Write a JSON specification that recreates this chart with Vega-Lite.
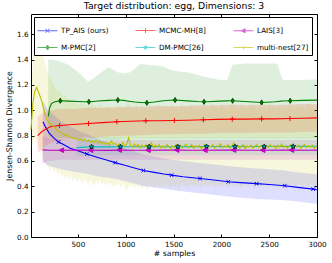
{
"$schema": "https://vega.github.io/schema/vega-lite/v6.json",
"width": 286, "height": 223,
"autosize": {"type": "none"},
"padding": {"left": 31, "top": 14, "right": 15, "bottom": 26},
"background": "white",
"title": {"text": "Target distribution: egg, Dimensions: 3", "font": "DejaVu Sans", "fontSize": 9.3, "fontWeight": 400, "color": "black", "offset": 2},
"config": {
  "title": {"fontWeight": 400},
  "view": {"stroke": "black", "strokeWidth": 1},
  "axis": {"labelFont": "DejaVu Sans", "labelFontSize": 7.2, "labelColor": "black", "titleFont": "DejaVu Sans", "titleFontSize": 7.8, "titleFontWeight": 400, "titleColor": "black", "tickColor": "black", "domain": false, "grid": false}
},
"datasets": {
"lines": [
{"m":"TP_AIS (ours)","x":135,"y":0.91,"lo":0.6,"hi":1.08},
{"m":"TP_AIS (ours)","x":160,"y":0.87,"lo":0.58,"hi":1.04},
{"m":"TP_AIS (ours)","x":200,"y":0.82,"lo":0.56,"hi":0.99},
{"m":"TP_AIS (ours)","x":250,"y":0.78,"lo":0.55,"hi":0.96},
{"m":"TP_AIS (ours)","x":298,"y":0.75,"lo":0.54,"hi":0.93},
{"m":"TP_AIS (ours)","x":350,"y":0.73,"lo":0.53,"hi":0.9},
{"m":"TP_AIS (ours)","x":420,"y":0.7,"lo":0.52,"hi":0.87},
{"m":"TP_AIS (ours)","x":500,"y":0.68,"lo":0.51,"hi":0.84},
{"m":"TP_AIS (ours)","x":594,"y":0.655,"lo":0.5,"hi":0.81},
{"m":"TP_AIS (ours)","x":700,"y":0.63,"lo":0.48,"hi":0.78},
{"m":"TP_AIS (ours)","x":800,"y":0.607,"lo":0.47,"hi":0.75},
{"m":"TP_AIS (ours)","x":890,"y":0.587,"lo":0.46,"hi":0.72},
{"m":"TP_AIS (ours)","x":1000,"y":0.565,"lo":0.44,"hi":0.7},
{"m":"TP_AIS (ours)","x":1100,"y":0.543,"lo":0.42,"hi":0.67},
{"m":"TP_AIS (ours)","x":1185,"y":0.525,"lo":0.4,"hi":0.65},
{"m":"TP_AIS (ours)","x":1300,"y":0.51,"lo":0.39,"hi":0.635},
{"m":"TP_AIS (ours)","x":1400,"y":0.497,"lo":0.38,"hi":0.62},
{"m":"TP_AIS (ours)","x":1480,"y":0.488,"lo":0.37,"hi":0.61},
{"m":"TP_AIS (ours)","x":1600,"y":0.476,"lo":0.36,"hi":0.6},
{"m":"TP_AIS (ours)","x":1777,"y":0.462,"lo":0.345,"hi":0.585},
{"m":"TP_AIS (ours)","x":1900,"y":0.452,"lo":0.335,"hi":0.575},
{"m":"TP_AIS (ours)","x":2073,"y":0.436,"lo":0.32,"hi":0.56},
{"m":"TP_AIS (ours)","x":2200,"y":0.429,"lo":0.31,"hi":0.55},
{"m":"TP_AIS (ours)","x":2369,"y":0.421,"lo":0.3,"hi":0.54},
{"m":"TP_AIS (ours)","x":2500,"y":0.414,"lo":0.295,"hi":0.535},
{"m":"TP_AIS (ours)","x":2664,"y":0.405,"lo":0.29,"hi":0.525},
{"m":"TP_AIS (ours)","x":2800,"y":0.392,"lo":0.28,"hi":0.51},
{"m":"TP_AIS (ours)","x":2960,"y":0.378,"lo":0.265,"hi":0.5},
{"m":"TP_AIS (ours)","x":3000,"y":0.375,"lo":0.26,"hi":0.495},
{"m":"M-PMC[2]","x":190,"y":0.95,"lo":0.8,"hi":1.4},
{"m":"M-PMC[2]","x":205,"y":1.02,"lo":0.79,"hi":1.4},
{"m":"M-PMC[2]","x":225,"y":1.055,"lo":0.78,"hi":1.4},
{"m":"M-PMC[2]","x":260,"y":1.068,"lo":0.78,"hi":1.395},
{"m":"M-PMC[2]","x":316,"y":1.075,"lo":0.78,"hi":1.385},
{"m":"M-PMC[2]","x":400,"y":1.072,"lo":0.78,"hi":1.36},
{"m":"M-PMC[2]","x":504,"y":1.07,"lo":0.78,"hi":1.3},
{"m":"M-PMC[2]","x":560,"y":1.068,"lo":0.79,"hi":1.26},
{"m":"M-PMC[2]","x":608,"y":1.067,"lo":0.79,"hi":1.225},
{"m":"M-PMC[2]","x":660,"y":1.07,"lo":0.78,"hi":1.25},
{"m":"M-PMC[2]","x":712,"y":1.073,"lo":0.78,"hi":1.28},
{"m":"M-PMC[2]","x":817,"y":1.078,"lo":0.77,"hi":1.34},
{"m":"M-PMC[2]","x":918,"y":1.081,"lo":0.77,"hi":1.3},
{"m":"M-PMC[2]","x":980,"y":1.078,"lo":0.78,"hi":1.29},
{"m":"M-PMC[2]","x":1050,"y":1.07,"lo":0.78,"hi":1.3},
{"m":"M-PMC[2]","x":1100,"y":1.065,"lo":0.78,"hi":1.33},
{"m":"M-PMC[2]","x":1151,"y":1.062,"lo":0.78,"hi":1.365},
{"m":"M-PMC[2]","x":1221,"y":1.059,"lo":0.78,"hi":1.36},
{"m":"M-PMC[2]","x":1300,"y":1.065,"lo":0.78,"hi":1.355},
{"m":"M-PMC[2]","x":1391,"y":1.075,"lo":0.78,"hi":1.345},
{"m":"M-PMC[2]","x":1464,"y":1.079,"lo":0.78,"hi":1.32},
{"m":"M-PMC[2]","x":1516,"y":1.081,"lo":0.78,"hi":1.31},
{"m":"M-PMC[2]","x":1642,"y":1.074,"lo":0.78,"hi":1.3},
{"m":"M-PMC[2]","x":1750,"y":1.069,"lo":0.78,"hi":1.28},
{"m":"M-PMC[2]","x":1819,"y":1.067,"lo":0.78,"hi":1.265},
{"m":"M-PMC[2]","x":1851,"y":1.068,"lo":0.78,"hi":1.26},
{"m":"M-PMC[2]","x":1986,"y":1.072,"lo":0.78,"hi":1.24},
{"m":"M-PMC[2]","x":2059,"y":1.074,"lo":0.78,"hi":1.24},
{"m":"M-PMC[2]","x":2090,"y":1.075,"lo":0.78,"hi":1.3},
{"m":"M-PMC[2]","x":2118,"y":1.075,"lo":0.78,"hi":1.36},
{"m":"M-PMC[2]","x":2250,"y":1.069,"lo":0.78,"hi":1.37},
{"m":"M-PMC[2]","x":2421,"y":1.062,"lo":0.78,"hi":1.37},
{"m":"M-PMC[2]","x":2560,"y":1.068,"lo":0.78,"hi":1.37},
{"m":"M-PMC[2]","x":2592,"y":1.07,"lo":0.78,"hi":1.36},
{"m":"M-PMC[2]","x":2620,"y":1.072,"lo":0.78,"hi":1.28},
{"m":"M-PMC[2]","x":2644,"y":1.073,"lo":0.78,"hi":1.24},
{"m":"M-PMC[2]","x":2720,"y":1.075,"lo":0.78,"hi":1.24},
{"m":"M-PMC[2]","x":2850,"y":1.078,"lo":0.78,"hi":1.24},
{"m":"M-PMC[2]","x":3000,"y":1.08,"lo":0.78,"hi":1.245},
{"m":"MCMC-MH[8]","x":80,"y":0.8,"lo":0.66,"hi":0.95},
{"m":"MCMC-MH[8]","x":120,"y":0.83,"lo":0.69,"hi":0.97},
{"m":"MCMC-MH[8]","x":160,"y":0.85,"lo":0.72,"hi":0.99},
{"m":"MCMC-MH[8]","x":211,"y":0.87,"lo":0.74,"hi":1.0},
{"m":"MCMC-MH[8]","x":309,"y":0.88,"lo":0.76,"hi":1.01},
{"m":"MCMC-MH[8]","x":450,"y":0.888,"lo":0.77,"hi":1.01},
{"m":"MCMC-MH[8]","x":611,"y":0.896,"lo":0.78,"hi":1.02},
{"m":"MCMC-MH[8]","x":750,"y":0.903,"lo":0.79,"hi":1.02},
{"m":"MCMC-MH[8]","x":907,"y":0.91,"lo":0.8,"hi":1.025},
{"m":"MCMC-MH[8]","x":1050,"y":0.913,"lo":0.8,"hi":1.03},
{"m":"MCMC-MH[8]","x":1210,"y":0.917,"lo":0.805,"hi":1.03},
{"m":"MCMC-MH[8]","x":1350,"y":0.918,"lo":0.81,"hi":1.035},
{"m":"MCMC-MH[8]","x":1509,"y":0.92,"lo":0.81,"hi":1.03},
{"m":"MCMC-MH[8]","x":1650,"y":0.922,"lo":0.815,"hi":1.035},
{"m":"MCMC-MH[8]","x":1812,"y":0.925,"lo":0.815,"hi":1.04},
{"m":"MCMC-MH[8]","x":1950,"y":0.928,"lo":0.82,"hi":1.04},
{"m":"MCMC-MH[8]","x":2114,"y":0.93,"lo":0.82,"hi":1.045},
{"m":"MCMC-MH[8]","x":2250,"y":0.93,"lo":0.82,"hi":1.04},
{"m":"MCMC-MH[8]","x":2421,"y":0.932,"lo":0.825,"hi":1.045},
{"m":"MCMC-MH[8]","x":2550,"y":0.932,"lo":0.825,"hi":1.04},
{"m":"MCMC-MH[8]","x":2717,"y":0.935,"lo":0.825,"hi":1.045},
{"m":"MCMC-MH[8]","x":2850,"y":0.937,"lo":0.83,"hi":1.05},
{"m":"MCMC-MH[8]","x":3000,"y":0.94,"lo":0.83,"hi":1.05},
{"m":"DM-PMC[26]","x":486,"y":0.705,"lo":0.64,"hi":0.78},
{"m":"DM-PMC[26]","x":643,"y":0.712,"lo":0.645,"hi":0.785},
{"m":"DM-PMC[26]","x":800,"y":0.711,"lo":0.645,"hi":0.785},
{"m":"DM-PMC[26]","x":945,"y":0.712,"lo":0.645,"hi":0.785},
{"m":"DM-PMC[26]","x":1100,"y":0.712,"lo":0.645,"hi":0.785},
{"m":"DM-PMC[26]","x":1245,"y":0.713,"lo":0.645,"hi":0.785},
{"m":"DM-PMC[26]","x":1400,"y":0.712,"lo":0.645,"hi":0.785},
{"m":"DM-PMC[26]","x":1545,"y":0.713,"lo":0.645,"hi":0.785},
{"m":"DM-PMC[26]","x":1700,"y":0.713,"lo":0.645,"hi":0.785},
{"m":"DM-PMC[26]","x":1845,"y":0.714,"lo":0.645,"hi":0.785},
{"m":"DM-PMC[26]","x":2000,"y":0.713,"lo":0.645,"hi":0.785},
{"m":"DM-PMC[26]","x":2143,"y":0.714,"lo":0.645,"hi":0.785},
{"m":"DM-PMC[26]","x":2300,"y":0.714,"lo":0.645,"hi":0.785},
{"m":"DM-PMC[26]","x":2448,"y":0.714,"lo":0.645,"hi":0.785},
{"m":"DM-PMC[26]","x":2600,"y":0.715,"lo":0.645,"hi":0.785},
{"m":"DM-PMC[26]","x":2751,"y":0.715,"lo":0.645,"hi":0.785},
{"m":"DM-PMC[26]","x":2900,"y":0.715,"lo":0.645,"hi":0.785},
{"m":"DM-PMC[26]","x":3000,"y":0.716,"lo":0.645,"hi":0.785},
{"m":"LAIS[3]","x":130,"y":0.688,"lo":0.58,"hi":0.8},
{"m":"LAIS[3]","x":200,"y":0.685,"lo":0.6,"hi":0.78},
{"m":"LAIS[3]","x":330,"y":0.685,"lo":0.61,"hi":0.77},
{"m":"LAIS[3]","x":500,"y":0.686,"lo":0.61,"hi":0.765},
{"m":"LAIS[3]","x":635,"y":0.685,"lo":0.61,"hi":0.765},
{"m":"LAIS[3]","x":800,"y":0.684,"lo":0.61,"hi":0.765},
{"m":"LAIS[3]","x":935,"y":0.686,"lo":0.61,"hi":0.765},
{"m":"LAIS[3]","x":1100,"y":0.685,"lo":0.61,"hi":0.765},
{"m":"LAIS[3]","x":1235,"y":0.685,"lo":0.61,"hi":0.765},
{"m":"LAIS[3]","x":1400,"y":0.686,"lo":0.61,"hi":0.765},
{"m":"LAIS[3]","x":1535,"y":0.686,"lo":0.61,"hi":0.765},
{"m":"LAIS[3]","x":1700,"y":0.685,"lo":0.61,"hi":0.765},
{"m":"LAIS[3]","x":1830,"y":0.685,"lo":0.61,"hi":0.765},
{"m":"LAIS[3]","x":2000,"y":0.686,"lo":0.61,"hi":0.765},
{"m":"LAIS[3]","x":2130,"y":0.686,"lo":0.61,"hi":0.765},
{"m":"LAIS[3]","x":2300,"y":0.685,"lo":0.61,"hi":0.765},
{"m":"LAIS[3]","x":2435,"y":0.685,"lo":0.61,"hi":0.765},
{"m":"LAIS[3]","x":2600,"y":0.686,"lo":0.61,"hi":0.765},
{"m":"LAIS[3]","x":2735,"y":0.686,"lo":0.61,"hi":0.765},
{"m":"LAIS[3]","x":2900,"y":0.685,"lo":0.61,"hi":0.765},
{"m":"LAIS[3]","x":3000,"y":0.686,"lo":0.61,"hi":0.765},
{"m":"multi-nest[27]","x":10,"y":0.85,"lo":0.68,"hi":1.02},
{"m":"multi-nest[27]","x":30,"y":1.06,"lo":0.74,"hi":1.42},
{"m":"multi-nest[27]","x":50,"y":1.15,"lo":0.78,"hi":1.6},
{"m":"multi-nest[27]","x":70,"y":1.18,"lo":0.76,"hi":1.66},
{"m":"multi-nest[27]","x":90,"y":1.14,"lo":0.72,"hi":1.63},
{"m":"multi-nest[27]","x":110,"y":1.1,"lo":0.68,"hi":1.56},
{"m":"multi-nest[27]","x":130,"y":1.05,"lo":0.64,"hi":1.47},
{"m":"multi-nest[27]","x":150,"y":0.99,"lo":0.6,"hi":1.39},
{"m":"multi-nest[27]","x":170,"y":0.94,"lo":0.57,"hi":1.33},
{"m":"multi-nest[27]","x":190,"y":0.91,"lo":0.55,"hi":1.29},
{"m":"multi-nest[27]","x":210,"y":0.895,"lo":0.52,"hi":1.26},
{"m":"multi-nest[27]","x":230,"y":0.88,"lo":0.56,"hi":1.22},
{"m":"multi-nest[27]","x":250,"y":0.875,"lo":0.5,"hi":1.2},
{"m":"multi-nest[27]","x":270,"y":0.85,"lo":0.53,"hi":1.17},
{"m":"multi-nest[27]","x":290,"y":0.845,"lo":0.49,"hi":1.15},
{"m":"multi-nest[27]","x":310,"y":0.83,"lo":0.51,"hi":1.16},
{"m":"multi-nest[27]","x":330,"y":0.82,"lo":0.47,"hi":1.12},
{"m":"multi-nest[27]","x":350,"y":0.815,"lo":0.5,"hi":1.1},
{"m":"multi-nest[27]","x":370,"y":0.8,"lo":0.46,"hi":1.13},
{"m":"multi-nest[27]","x":390,"y":0.805,"lo":0.49,"hi":1.08},
{"m":"multi-nest[27]","x":410,"y":0.79,"lo":0.45,"hi":1.1},
{"m":"multi-nest[27]","x":430,"y":0.785,"lo":0.48,"hi":1.06},
{"m":"multi-nest[27]","x":450,"y":0.78,"lo":0.44,"hi":1.09},
{"m":"multi-nest[27]","x":470,"y":0.775,"lo":0.47,"hi":1.05},
{"m":"multi-nest[27]","x":490,"y":0.78,"lo":0.43,"hi":1.07},
{"m":"multi-nest[27]","x":510,"y":0.765,"lo":0.46,"hi":1.04},
{"m":"multi-nest[27]","x":530,"y":0.775,"lo":0.45,"hi":1.08},
{"m":"multi-nest[27]","x":550,"y":0.76,"lo":0.42,"hi":1.03},
{"m":"multi-nest[27]","x":570,"y":0.77,"lo":0.46,"hi":1.06},
{"m":"multi-nest[27]","x":590,"y":0.755,"lo":0.44,"hi":1.02},
{"m":"multi-nest[27]","x":610,"y":0.765,"lo":0.41,"hi":1.05},
{"m":"multi-nest[27]","x":630,"y":0.75,"lo":0.45,"hi":1.03},
{"m":"multi-nest[27]","x":650,"y":0.76,"lo":0.43,"hi":1.07},
{"m":"multi-nest[27]","x":670,"y":0.745,"lo":0.4,"hi":1.02},
{"m":"multi-nest[27]","x":690,"y":0.765,"lo":0.44,"hi":1.04},
{"m":"multi-nest[27]","x":710,"y":0.74,"lo":0.42,"hi":1.01},
{"m":"multi-nest[27]","x":730,"y":0.755,"lo":0.45,"hi":1.06},
{"m":"multi-nest[27]","x":750,"y":0.735,"lo":0.41,"hi":1.02},
{"m":"multi-nest[27]","x":770,"y":0.75,"lo":0.43,"hi":1.04},
{"m":"multi-nest[27]","x":790,"y":0.73,"lo":0.4,"hi":1.0},
{"m":"multi-nest[27]","x":810,"y":0.745,"lo":0.44,"hi":1.05},
{"m":"multi-nest[27]","x":830,"y":0.725,"lo":0.41,"hi":1.01},
{"m":"multi-nest[27]","x":850,"y":0.76,"lo":0.43,"hi":1.03},
{"m":"multi-nest[27]","x":870,"y":0.73,"lo":0.39,"hi":1.0},
{"m":"multi-nest[27]","x":890,"y":0.74,"lo":0.42,"hi":1.04},
{"m":"multi-nest[27]","x":910,"y":0.72,"lo":0.4,"hi":1.02},
{"m":"multi-nest[27]","x":930,"y":0.735,"lo":0.44,"hi":1.05},
{"m":"multi-nest[27]","x":950,"y":0.715,"lo":0.38,"hi":1.0},
{"m":"multi-nest[27]","x":970,"y":0.745,"lo":0.42,"hi":1.03},
{"m":"multi-nest[27]","x":990,"y":0.72,"lo":0.4,"hi":1.01},
{"m":"multi-nest[27]","x":1010,"y":0.73,"lo":0.36,"hi":1.04},
{"m":"multi-nest[27]","x":1030,"y":0.785,"lo":0.41,"hi":1.08},
{"m":"multi-nest[27]","x":1050,"y":0.725,"lo":0.39,"hi":1.01},
{"m":"multi-nest[27]","x":1070,"y":0.71,"lo":0.42,"hi":1.03},
{"m":"multi-nest[27]","x":1090,"y":0.735,"lo":0.38,"hi":1.0},
{"m":"multi-nest[27]","x":1110,"y":0.715,"lo":0.41,"hi":1.05},
{"m":"multi-nest[27]","x":1130,"y":0.73,"lo":0.39,"hi":1.02},
{"m":"multi-nest[27]","x":1150,"y":0.705,"lo":0.42,"hi":1.0},
{"m":"multi-nest[27]","x":1170,"y":0.725,"lo":0.38,"hi":1.04},
{"m":"multi-nest[27]","x":1190,"y":0.71,"lo":0.41,"hi":1.01},
{"m":"multi-nest[27]","x":1210,"y":0.73,"lo":0.4,"hi":1.03},
{"m":"multi-nest[27]","x":1230,"y":0.7,"lo":0.37,"hi":0.99},
{"m":"multi-nest[27]","x":1250,"y":0.72,"lo":0.42,"hi":1.05},
{"m":"multi-nest[27]","x":1270,"y":0.745,"lo":0.39,"hi":1.02},
{"m":"multi-nest[27]","x":1290,"y":0.705,"lo":0.41,"hi":1.0},
{"m":"multi-nest[27]","x":1310,"y":0.725,"lo":0.38,"hi":1.04},
{"m":"multi-nest[27]","x":1330,"y":0.71,"lo":0.42,"hi":1.01},
{"m":"multi-nest[27]","x":1350,"y":0.73,"lo":0.4,"hi":1.06},
{"m":"multi-nest[27]","x":1370,"y":0.7,"lo":0.39,"hi":1.0},
{"m":"multi-nest[27]","x":1390,"y":0.72,"lo":0.41,"hi":1.03},
{"m":"multi-nest[27]","x":1410,"y":0.705,"lo":0.38,"hi":1.01},
{"m":"multi-nest[27]","x":1430,"y":0.73,"lo":0.42,"hi":1.04},
{"m":"multi-nest[27]","x":1450,"y":0.715,"lo":0.4,"hi":1.0},
{"m":"multi-nest[27]","x":1470,"y":0.695,"lo":0.37,"hi":1.03},
{"m":"multi-nest[27]","x":1490,"y":0.72,"lo":0.41,"hi":1.05},
{"m":"multi-nest[27]","x":1510,"y":0.705,"lo":0.39,"hi":1.01},
{"m":"multi-nest[27]","x":1530,"y":0.73,"lo":0.42,"hi":1.04},
{"m":"multi-nest[27]","x":1550,"y":0.71,"lo":0.36,"hi":1.0},
{"m":"multi-nest[27]","x":1570,"y":0.725,"lo":0.4,"hi":1.03},
{"m":"multi-nest[27]","x":1590,"y":0.7,"lo":0.42,"hi":1.06},
{"m":"multi-nest[27]","x":1610,"y":0.72,"lo":0.39,"hi":1.01},
{"m":"multi-nest[27]","x":1630,"y":0.735,"lo":0.41,"hi":1.04},
{"m":"multi-nest[27]","x":1650,"y":0.705,"lo":0.38,"hi":1.0},
{"m":"multi-nest[27]","x":1670,"y":0.715,"lo":0.42,"hi":1.03},
{"m":"multi-nest[27]","x":1690,"y":0.73,"lo":0.4,"hi":1.05},
{"m":"multi-nest[27]","x":1710,"y":0.7,"lo":0.41,"hi":1.01},
{"m":"multi-nest[27]","x":1730,"y":0.72,"lo":0.39,"hi":1.04},
{"m":"multi-nest[27]","x":1750,"y":0.71,"lo":0.42,"hi":1.0},
{"m":"multi-nest[27]","x":1770,"y":0.725,"lo":0.4,"hi":1.03},
{"m":"multi-nest[27]","x":1790,"y":0.695,"lo":0.38,"hi":1.02},
{"m":"multi-nest[27]","x":1810,"y":0.715,"lo":0.42,"hi":1.05},
{"m":"multi-nest[27]","x":1830,"y":0.73,"lo":0.4,"hi":1.01},
{"m":"multi-nest[27]","x":1850,"y":0.705,"lo":0.41,"hi":1.04},
{"m":"multi-nest[27]","x":1870,"y":0.72,"lo":0.39,"hi":1.0},
{"m":"multi-nest[27]","x":1890,"y":0.71,"lo":0.42,"hi":1.03},
{"m":"multi-nest[27]","x":1910,"y":0.73,"lo":0.4,"hi":1.06},
{"m":"multi-nest[27]","x":1930,"y":0.7,"lo":0.38,"hi":1.01},
{"m":"multi-nest[27]","x":1950,"y":0.72,"lo":0.42,"hi":1.04},
{"m":"multi-nest[27]","x":1970,"y":0.715,"lo":0.4,"hi":1.0},
{"m":"multi-nest[27]","x":1990,"y":0.735,"lo":0.41,"hi":1.03},
{"m":"multi-nest[27]","x":2010,"y":0.705,"lo":0.39,"hi":1.05},
{"m":"multi-nest[27]","x":2030,"y":0.72,"lo":0.42,"hi":1.01},
{"m":"multi-nest[27]","x":2050,"y":0.71,"lo":0.4,"hi":1.04},
{"m":"multi-nest[27]","x":2070,"y":0.73,"lo":0.38,"hi":1.0},
{"m":"multi-nest[27]","x":2090,"y":0.7,"lo":0.42,"hi":1.03},
{"m":"multi-nest[27]","x":2110,"y":0.72,"lo":0.4,"hi":1.06},
{"m":"multi-nest[27]","x":2130,"y":0.745,"lo":0.41,"hi":1.02},
{"m":"multi-nest[27]","x":2150,"y":0.71,"lo":0.39,"hi":1.04},
{"m":"multi-nest[27]","x":2170,"y":0.725,"lo":0.42,"hi":1.0},
{"m":"multi-nest[27]","x":2190,"y":0.7,"lo":0.4,"hi":1.03},
{"m":"multi-nest[27]","x":2210,"y":0.715,"lo":0.38,"hi":1.05},
{"m":"multi-nest[27]","x":2230,"y":0.73,"lo":0.41,"hi":1.01},
{"m":"multi-nest[27]","x":2250,"y":0.695,"lo":0.42,"hi":1.04},
{"m":"multi-nest[27]","x":2270,"y":0.72,"lo":0.4,"hi":1.0},
{"m":"multi-nest[27]","x":2290,"y":0.71,"lo":0.39,"hi":1.03},
{"m":"multi-nest[27]","x":2310,"y":0.725,"lo":0.42,"hi":1.06},
{"m":"multi-nest[27]","x":2330,"y":0.7,"lo":0.4,"hi":1.02},
{"m":"multi-nest[27]","x":2350,"y":0.715,"lo":0.38,"hi":1.04},
{"m":"multi-nest[27]","x":2370,"y":0.73,"lo":0.41,"hi":1.0},
{"m":"multi-nest[27]","x":2390,"y":0.705,"lo":0.42,"hi":1.03},
{"m":"multi-nest[27]","x":2410,"y":0.72,"lo":0.4,"hi":1.05},
{"m":"multi-nest[27]","x":2430,"y":0.71,"lo":0.39,"hi":1.01},
{"m":"multi-nest[27]","x":2450,"y":0.685,"lo":0.42,"hi":1.04},
{"m":"multi-nest[27]","x":2470,"y":0.72,"lo":0.4,"hi":1.0},
{"m":"multi-nest[27]","x":2490,"y":0.705,"lo":0.38,"hi":1.03},
{"m":"multi-nest[27]","x":2510,"y":0.73,"lo":0.41,"hi":1.06},
{"m":"multi-nest[27]","x":2530,"y":0.71,"lo":0.42,"hi":1.02},
{"m":"multi-nest[27]","x":2550,"y":0.72,"lo":0.4,"hi":1.04},
{"m":"multi-nest[27]","x":2570,"y":0.7,"lo":0.39,"hi":1.0},
{"m":"multi-nest[27]","x":2590,"y":0.725,"lo":0.42,"hi":1.03},
{"m":"multi-nest[27]","x":2610,"y":0.71,"lo":0.4,"hi":1.05},
{"m":"multi-nest[27]","x":2630,"y":0.735,"lo":0.38,"hi":1.01},
{"m":"multi-nest[27]","x":2650,"y":0.705,"lo":0.41,"hi":1.04},
{"m":"multi-nest[27]","x":2670,"y":0.72,"lo":0.42,"hi":1.0},
{"m":"multi-nest[27]","x":2690,"y":0.7,"lo":0.4,"hi":1.03},
{"m":"multi-nest[27]","x":2710,"y":0.715,"lo":0.39,"hi":1.06},
{"m":"multi-nest[27]","x":2730,"y":0.73,"lo":0.42,"hi":1.02},
{"m":"multi-nest[27]","x":2750,"y":0.705,"lo":0.4,"hi":1.04},
{"m":"multi-nest[27]","x":2770,"y":0.72,"lo":0.38,"hi":1.0},
{"m":"multi-nest[27]","x":2790,"y":0.71,"lo":0.41,"hi":1.03},
{"m":"multi-nest[27]","x":2810,"y":0.725,"lo":0.42,"hi":1.05},
{"m":"multi-nest[27]","x":2830,"y":0.7,"lo":0.4,"hi":1.01},
{"m":"multi-nest[27]","x":2850,"y":0.715,"lo":0.39,"hi":1.04},
{"m":"multi-nest[27]","x":2870,"y":0.73,"lo":0.42,"hi":1.0},
{"m":"multi-nest[27]","x":2890,"y":0.705,"lo":0.4,"hi":1.03},
{"m":"multi-nest[27]","x":2910,"y":0.72,"lo":0.38,"hi":1.06},
{"m":"multi-nest[27]","x":2930,"y":0.71,"lo":0.41,"hi":1.02},
{"m":"multi-nest[27]","x":2950,"y":0.725,"lo":0.42,"hi":1.04},
{"m":"multi-nest[27]","x":2970,"y":0.7,"lo":0.4,"hi":1.0},
{"m":"multi-nest[27]","x":2990,"y":0.715,"lo":0.39,"hi":1.03},
{"m":"multi-nest[27]","x":3000,"y":0.71,"lo":0.41,"hi":1.02}
],
"marks": [
{"method":"TP_AIS (ours)","x":298,"y":0.75},{"method":"TP_AIS (ours)","x":594,"y":0.655},{"method":"TP_AIS (ours)","x":890,"y":0.587},{"method":"TP_AIS (ours)","x":1185,"y":0.525},{"method":"TP_AIS (ours)","x":1480,"y":0.488},{"method":"TP_AIS (ours)","x":1777,"y":0.462},{"method":"TP_AIS (ours)","x":2073,"y":0.436},{"method":"TP_AIS (ours)","x":2369,"y":0.421},{"method":"TP_AIS (ours)","x":2664,"y":0.405},{"method":"TP_AIS (ours)","x":2960,"y":0.378},
{"method":"MCMC-MH[8]","x":309,"y":0.88},{"method":"MCMC-MH[8]","x":611,"y":0.896},{"method":"MCMC-MH[8]","x":907,"y":0.91},{"method":"MCMC-MH[8]","x":1210,"y":0.917},{"method":"MCMC-MH[8]","x":1509,"y":0.92},{"method":"MCMC-MH[8]","x":1812,"y":0.925},{"method":"MCMC-MH[8]","x":2114,"y":0.93},{"method":"MCMC-MH[8]","x":2421,"y":0.932},{"method":"MCMC-MH[8]","x":2717,"y":0.935},
{"method":"M-PMC[2]","x":316,"y":1.075},{"method":"M-PMC[2]","x":615,"y":1.067},{"method":"M-PMC[2]","x":918,"y":1.081},{"method":"M-PMC[2]","x":1221,"y":1.059},{"method":"M-PMC[2]","x":1516,"y":1.081},{"method":"M-PMC[2]","x":1819,"y":1.067},{"method":"M-PMC[2]","x":2118,"y":1.075},{"method":"M-PMC[2]","x":2421,"y":1.062},{"method":"M-PMC[2]","x":2720,"y":1.075},
{"method":"LAIS[3]","x":330,"y":0.685},{"method":"LAIS[3]","x":635,"y":0.685},{"method":"LAIS[3]","x":935,"y":0.686},{"method":"LAIS[3]","x":1235,"y":0.685},{"method":"LAIS[3]","x":1535,"y":0.686},{"method":"LAIS[3]","x":1830,"y":0.685},{"method":"LAIS[3]","x":2130,"y":0.686},{"method":"LAIS[3]","x":2435,"y":0.685},{"method":"LAIS[3]","x":2735,"y":0.686},
{"method":"DM-PMC[26]","x":643,"y":0.712},{"method":"DM-PMC[26]","x":945,"y":0.712},{"method":"DM-PMC[26]","x":1245,"y":0.713},{"method":"DM-PMC[26]","x":1545,"y":0.713},{"method":"DM-PMC[26]","x":1845,"y":0.714},{"method":"DM-PMC[26]","x":2143,"y":0.714},{"method":"DM-PMC[26]","x":2448,"y":0.714},{"method":"DM-PMC[26]","x":2751,"y":0.715}
]
},
"resolve": {"axis": {"x": "independent", "y": "independent"}},
"layer": [
{
  "data": {"name": "lines"},
  "mark": {"type": "area", "opacity": 0.13},
  "encoding": {
    "x": {"field": "x", "type": "quantitative", "scale": {"domain": [10, 3000], "nice": false, "zero": false},
      "axis": {"values": [500, 1000, 1500, 2000, 2500, 3000], "format": "d", "title": "# samples", "tickSize": -3, "labelPadding": 6, "titlePadding": 2, "labelFlush": false}},
    "y": {"field": "lo", "type": "quantitative", "stack": null, "scale": {"domain": [0, 1.76], "nice": false},
      "axis": {"values": [0, 0.2, 0.4, 0.6, 0.8, 1.0, 1.2, 1.4, 1.6], "format": ".1f", "title": "Jensen-Shannon Divergence", "tickSize": -3, "labelPadding": 6, "titlePadding": 3, "labelFlush": false}},
    "y2": {"field": "hi"},
    "color": {"field": "m", "type": "nominal",
      "scale": {"domain": ["TP_AIS (ours)", "MCMC-MH[8]", "LAIS[3]", "M-PMC[2]", "DM-PMC[26]", "multi-nest[27]"],
                "range": ["#0000ff", "#ff0000", "#bf00bf", "#008000", "#00bfbf", "#bfbf00"]}}
  }
},
{
  "data": {"name": "lines"},
  "mark": {"type": "line", "strokeWidth": 1.1},
  "encoding": {
    "x": {"field": "x", "type": "quantitative", "axis": null},
    "y": {"field": "y", "type": "quantitative", "axis": null},
    "color": {"field": "m", "type": "nominal",
      "legend": {"orient": "none", "legendX": 3, "legendY": 3, "columns": 3, "direction": "horizontal", "title": null,
        "gridAlign": "all", "labelFont": "DejaVu Sans", "labelFontSize": 7.2, "labelColor": "black", "labelOffset": 3,
        "strokeColor": "black", "fillColor": "white", "padding": 3, "rowPadding": 2, "columnPadding": 20,
        "symbolSize": 400, "symbolStrokeWidth": 1, "cornerRadius": 0,
        "encode": {"symbols": {"update": {
          "shape": {"signal": "datum.value === 'TP_AIS (ours)' ? 'M-1,0H1M-0.2,-0.2L0.2,0.2M-0.2,0.2L0.2,-0.2' : datum.value === 'MCMC-MH[8]' ? 'M-1,0H1M0,-0.25V0.25' : datum.value === 'LAIS[3]' ? 'M-1,0H1M-0.2,0L0.16,-0.2L0.16,0.2Z' : datum.value === 'M-PMC[2]' ? 'M-1,0H1M0,-0.25L0.15,0L0,0.25L-0.15,0Z' : datum.value === 'DM-PMC[26]' ? 'M-1,0H1M0,-0.2L0.05,-0.07L0.19,-0.06L0.08,0.03L0.12,0.16L0,0.08L-0.12,0.16L-0.08,0.03L-0.19,-0.06L-0.05,-0.07Z' : 'M-1,0H1M0,0V0.2M0,0L-0.17,-0.1M0,0L0.17,-0.1'"},
          "fill": {"signal": "scale('color', datum.value)"},
          "stroke": {"signal": "scale('color', datum.value)"},
          "opacity": {"value": 0.6}
        }}}
      }}
  }
},
{
  "data": {"name": "marks"},
  "mark": {"type": "point", "filled": true, "size": 26, "strokeWidth": 1, "opacity": 1},
  "encoding": {
    "x": {"field": "x", "type": "quantitative",
      "axis": {"orient": "top", "values": [500, 1000, 1500, 2000, 2500, 3000], "labels": false, "title": null, "tickSize": -3}},
    "y": {"field": "y", "type": "quantitative",
      "axis": {"orient": "right", "values": [0, 0.2, 0.4, 0.6, 0.8, 1.0, 1.2, 1.4, 1.6], "labels": false, "title": null, "tickSize": -3}},
    "shape": {"field": "method", "type": "nominal", "legend": null,
      "scale": {"range": ["M0,-1L0.24,-0.33L0.95,-0.31L0.38,0.12L0.59,0.81L0,0.4L-0.59,0.81L-0.38,0.12L-0.95,-0.31L-0.24,-0.33Z", "M-1,0L0.8,-0.9L0.8,0.9Z", "M0,-1L0.6,0L0,1L-0.6,0Z", "M0,-1V1M-1,0H1", "M-0.7,-0.7L0.7,0.7M-0.7,0.7L0.7,-0.7"]}},
    "fill": {"field": "method", "type": "nominal", "legend": null,
      "scale": {"range": ["#00bfbf", "#bf00bf", "#008000", "#ff0000", "#0000ff"]}},
    "stroke": {"field": "method", "type": "nominal", "legend": null,
      "scale": {"range": ["#003333", "#bf00bf", "#004d00", "#ff0000", "#0000ff"]}}
  }
}
]
}
